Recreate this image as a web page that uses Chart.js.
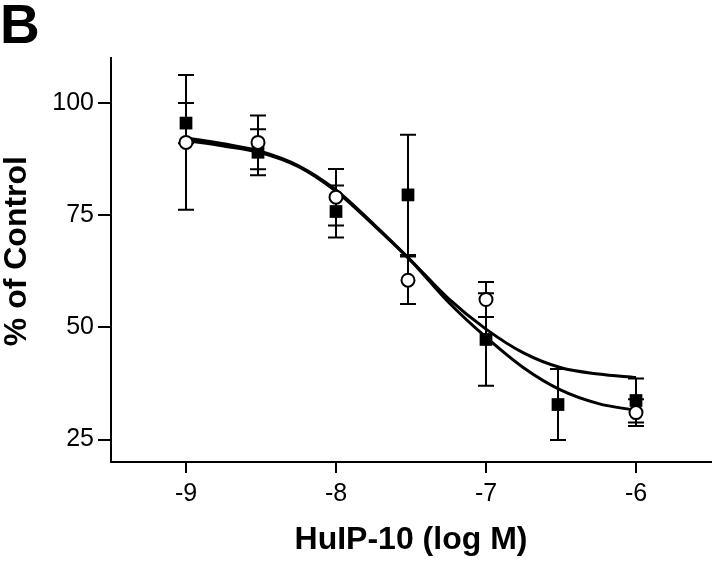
<!DOCTYPE html>
<html>
<head>
<meta charset="utf-8">
<script src="https://cdn.jsdelivr.net/npm/chart.js@4.4.1/dist/chart.umd.min.js"></script>
<style>
  html, body { margin: 0; padding: 0; background: #fff; }
</style>
</head>
<body>
<canvas id="chart" width="720" height="564"></canvas>
<script>
// doses (log M) and means / SEM
const doses = [-9, -8.52, -8, -7.52, -7, -6.52, -6];
const openMean = [91.2, 91.2, 79.0, 60.5, 56.2, null, 31.0];
const openErr = [15.0, 6.0, 6.3, 5.3, 3.9, null, 3.0];
const filledMean = [95.5, 89.0, 75.8, 79.5, 47.3, 32.8, 33.7];
const filledErr = [4.5, 5.1, 5.8, 13.4, 10.3, 7.9, 4.9];

// fitted curves
const fitX = [-9, -8.75, -8.5, -8.25, -8, -7.75, -7.5, -7.25, -7, -6.75, -6.5, -6.25, -6];
const openFit = [92.2, 90.9, 89.2, 86.0, 80.6, 73.0, 64.9, 56.4, 49.6, 44.3, 41.0, 39.6, 38.8];
const filledFit = [91.6, 90.4, 88.9, 85.8, 80.3, 72.8, 64.8, 55.6, 47.8, 41.0, 36.0, 33.0, 31.5];

const xTicks = [-9, -8, -7, -6];
const yTicks = [25, 50, 75, 100];

const FONT = "'Liberation Sans', Arial, Helvetica, sans-serif";

let points = (means, errs) => doses
    .map((d, i) => ({ x: d, y: means[i], err: errs[i] }))
    .filter(p => p.y != null);

// vertical error bars with caps, drawn under the markers
const errorBars = {
    id: 'errorBars',
    beforeDatasetsDraw(chart) {
        const { ctx, scales: { x, y } } = chart;
        ctx.save();
        ctx.strokeStyle = '#000';
        ctx.lineWidth = 2;
        chart.data.datasets.forEach(ds => {
            if (!ds.errorBars) return;
            ds.data.forEach(p => {
                const px = x.getPixelForValue(p.x);
                const top = y.getPixelForValue(p.y + p.err);
                const bot = y.getPixelForValue(p.y - p.err);
                ctx.beginPath();
                ctx.moveTo(px, top); ctx.lineTo(px, bot);
                ctx.moveTo(px - 8, top); ctx.lineTo(px + 8, top);
                ctx.moveTo(px - 8, bot); ctx.lineTo(px + 8, bot);
                ctx.stroke();
            });
        });
        ctx.restore();
    }
};

new Chart(document.getElementById('chart'), {
    type: 'scatter',
    data: {
        datasets: [
            {
                label: 'open',
                data: points(openMean, openErr),
                errorBars: true,
                pointStyle: 'circle',
                pointRadius: 6.5,
                backgroundColor: '#fff',
                borderColor: '#000',
                borderWidth: 2
            },
            {
                label: 'filled',
                data: points(filledMean, filledErr),
                errorBars: true,
                pointStyle: 'rect',
                pointRadius: 9,
                backgroundColor: '#000',
                borderColor: '#000',
                borderWidth: 0
            },
            {
                type: 'line',
                label: 'open fit',
                data: fitX.map((v, i) => ({ x: v, y: openFit[i] })),
                borderColor: '#000',
                borderWidth: 3,
                pointRadius: 0,
                fill: false,
                cubicInterpolationMode: 'monotone'
            },
            {
                type: 'line',
                label: 'filled fit',
                data: fitX.map((v, i) => ({ x: v, y: filledFit[i] })),
                borderColor: '#000',
                borderWidth: 3,
                pointRadius: 0,
                fill: false,
                cubicInterpolationMode: 'monotone'
            }
        ]
    },
    options: {
        responsive: false,
        animation: false,
        layout: { padding: { left: 0, right: 2, top: 0, bottom: 0 } },
        scales: {
            x: {
                type: 'linear',
                min: -9.5,
                max: -5.5,
                afterBuildTicks: s => { s.ticks = xTicks.map(v => ({ value: v })); },
                afterFit: s => { s.height = 102; },
                ticks: {
                    color: '#000',
                    padding: 6,
                    font: { family: FONT, size: 25 },
                    callback: v => String(v)
                },
                grid: { drawOnChartArea: false, drawTicks: true, tickLength: 11, color: '#000', lineWidth: 2 },
                border: { display: true, color: '#000', width: 2 },
                title: {
                    display: true,
                    text: 'HuIP-10 (log M)',
                    color: '#000',
                    font: { family: FONT, size: 32, weight: 'bold' },
                    padding: { top: 0, bottom: 5 }
                }
            },
            y: {
                min: 20,
                max: 110,
                afterBuildTicks: s => { s.ticks = yTicks.map(v => ({ value: v })); },
                afterFit: s => { s.width = 111; },
                ticks: {
                    color: '#000',
                    padding: 4,
                    font: { family: FONT, size: 25 }
                },
                grid: { drawOnChartArea: false, drawTicks: true, tickLength: 13, color: '#000', lineWidth: 2 },
                border: { display: true, color: '#000', width: 2 },
                title: {
                    display: true,
                    // leading spaces nudge the centred label upward, as in the original
                    text: '  % of Control',
                    color: '#000',
                    font: { family: FONT, size: 32, weight: 'bold', lineHeight: 1.05 },
                    padding: { top: 0, bottom: 0 }
                }
            }
        },
        plugins: {
            legend: { display: false },
            tooltip: { enabled: false },
            title: {
                display: true,
                text: 'B',
                align: 'start',
                color: '#000',
                font: { family: FONT, size: 55, weight: 'bold', lineHeight: 1 },
                padding: { top: 0, bottom: 3 }
            }
        }
    },
    plugins: [errorBars]
});
</script>
</body>
</html>
